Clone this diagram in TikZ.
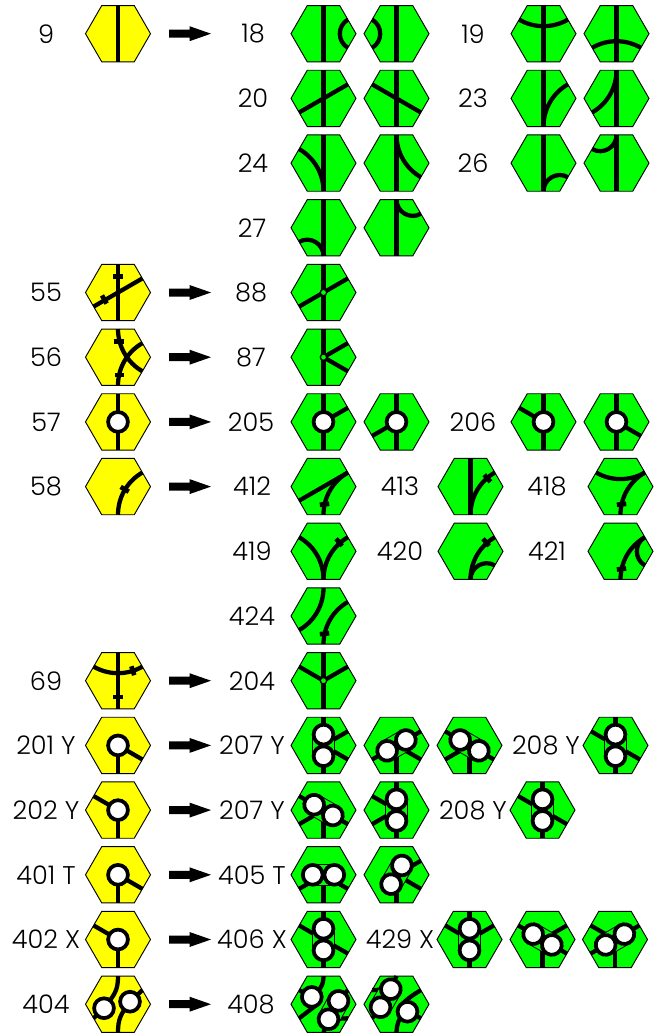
\documentclass[tikz,border=0pt]{standalone}
\usepackage{fontspec}
\setmainfont{Poppins}[UprightFont=* Light]
\definecolor{tg}{HTML}{00FF00}
\definecolor{ty}{HTML}{FFFF00}
\def\ap{28.15}
\tikzset{
  track/.style={draw=black,line width=3.2pt},
  tickbar/.style={draw=black,line width=3.5pt},
  ringc/.style={draw=black,fill=white,line width=2.8pt},
  thinside/.style={draw=black,fill=tg,line width=0.6pt},
  dotmark/.style={draw=black,fill=tg,line width=1pt},
  hexb/.style={draw=black,line width=0.7pt},
  lab/.style={font=\fontsize{19.2}{21}\selectfont,inner sep=0pt,anchor=center},
}
% gentle or straight track between two edges
\newcommand\trk[2]{\pgfmathsetmacro\oa{#1+180}\pgfmathsetmacro\ob{#2+180}%
  \draw[track] (#1:\ap) to[out=\oa,in=\ob,looseness=0.92] (#2:\ap);}
% sharp track between two adjacent edges
\newcommand\srk[2]{\pgfmathsetmacro\oa{#1+180}\pgfmathsetmacro\ob{#2+180}%
  \draw[track] (#1:\ap) to[out=\oa,in=\ob,looseness=1.13] (#2:\ap);}
\newcommand\legs[1]{\foreach\a in {#1}{\draw[track] (0,0)--(\a:\ap);}}
\newcommand\tick[3]{\begin{scope}[shift={(#1,#2)},rotate=#3]\draw[tickbar] (-4.7,0)--(4.7,0);\end{scope}}
\newcommand\town{\draw[dotmark] (0,0) circle (3.2);}
\newcommand\city[2]{\draw[ringc] (#1,#2) circle (9.9);}
\newcommand\stad[4]{\begin{scope}[shift={(#1,#2)},rotate=#3]
  \draw[thinside] (-#4,-10.8) rectangle (#4,10.8);
  \draw[ringc] (-#4,0) circle (9.9);\draw[ringc] (#4,0) circle (9.9);\end{scope}}
\newcommand\twocity[2]{\legs{#2}\stad{0}{0}{#1}{10.8}}
\newcommand\tile[4]{\pgfmathsetmacro\ty{-(33.7+64.7*#3)}%
  \begin{scope}[shift={(#2,\ty)}]
  \fill[#1] (0:32.5)--(60:32.5)--(120:32.5)--(180:32.5)--(240:32.5)--(300:32.5)--cycle;
  #4
  \draw[hexb] (0:32.5)--(60:32.5)--(120:32.5)--(180:32.5)--(240:32.5)--(300:32.5)--cycle;
  \end{scope}}
\newcommand\arw[1]{\pgfmathsetmacro\ty{-(33.7+64.7*#1)}%
  \begin{scope}[shift={(0,\ty)}]
  \fill[black] (169,4)--(189.5,4)--(189.5,7.5)--(211,0)--(189.5,-7.5)--(189.5,-4)--(169,-4)--cycle;
  \end{scope}}
\newcommand\lab[3]{\pgfmathsetmacro\ty{-(33.7+64.7*#2)}%
  \node[lab] (lab-#1-#2) at (#1,\ty) {#3};}
\begin{document}
\begin{tikzpicture}[x=0.75pt,y=0.75pt]
\useasboundingbox (0,0) rectangle (660,-1034);
% labels
\lab{46}{0}{9}\lab{253}{0}{18}\lab{473}{0}{19}
\lab{253}{1}{20}\lab{473}{1}{23}
\lab{253}{2}{24}\lab{473}{2}{26}
\lab{252}{3}{27}
\lab{46}{4}{55}\lab{251}{4}{88}
\lab{46}{5}{56}\lab{251}{5}{87}
\lab{46}{6}{57}\lab{251}{6}{205}\lab{473}{6}{206}
\lab{46}{7}{58}\lab{252}{7}{412}\lab{400}{7}{413}\lab{547}{7}{418}
\lab{252}{8}{419}\lab{400}{8}{420}\lab{547}{8}{421}
\lab{252}{9}{424}
\lab{46}{10}{69}\lab{252}{10}{204}
\lab{46}{11}{201 Y}\lab{252}{11}{207 Y}\lab{546}{11}{208 Y}
\lab{46}{12}{202 Y}\lab{252}{12}{207 Y}\lab{473}{12}{208 Y}
\lab{46}{13}{401 T}\lab{252}{13}{405 T}
\lab{46}{14}{402 X}\lab{252}{14}{406 X}\lab{400}{14}{429 X}
\lab{46}{15}{404}\lab{251}{15}{408}
% arrows
\foreach\r in {0,4,5,6,7,10,11,12,13,14,15}{\arw{\r}}
% row 0
\tile{ty}{118}{0}{\trk{90}{-90}}
\tile{tg}{323.5}{0}{\trk{90}{-90}\srk{30}{-30}}
\tile{tg}{396.5}{0}{\trk{90}{-90}\srk{150}{-150}}
\tile{tg}{543.5}{0}{\trk{90}{-90}\trk{150}{30}}
\tile{tg}{616.5}{0}{\trk{90}{-90}\trk{-150}{-30}}
% row 1
\tile{tg}{323.5}{1}{\trk{90}{-90}\trk{30}{-150}}
\tile{tg}{396.5}{1}{\trk{90}{-90}\trk{150}{-30}}
\tile{tg}{543.5}{1}{\trk{90}{-90}\trk{-90}{30}}
\tile{tg}{616.5}{1}{\trk{90}{-90}\trk{90}{-150}}
% row 2
\tile{tg}{323.5}{2}{\trk{90}{-90}\trk{-90}{150}}
\tile{tg}{396.5}{2}{\trk{90}{-90}\trk{90}{-30}}
\tile{tg}{543.5}{2}{\trk{90}{-90}\srk{-90}{-30}}
\tile{tg}{616.5}{2}{\trk{90}{-90}\srk{90}{150}}
% row 3
\tile{tg}{323.5}{3}{\trk{90}{-90}\srk{-90}{-150}}
\tile{tg}{396.5}{3}{\trk{90}{-90}\srk{90}{30}}
% row 4
\tile{ty}{118}{4}{\trk{90}{-90}\trk{30}{-150}\tick{0}{16.3}{0}\tick{-13.7}{-7}{120}}
\tile{tg}{323.5}{4}{\trk{90}{-90}\trk{30}{-150}\town}
% row 5
\tile{ty}{118}{5}{\trk{90}{-30}\trk{-90}{30}\tick{1}{16}{0}\tick{1.3}{-17.7}{0}}
\tile{tg}{323.5}{5}{\legs{90,-90,30,-30}\town}
% row 6
\tile{ty}{118}{6}{\legs{90,-90}\city{0}{0}}
\tile{tg}{323.5}{6}{\legs{90,-90,30}\city{0}{0}}
\tile{tg}{396.5}{6}{\legs{90,-90,-150}\city{0}{0}}
\tile{tg}{543.5}{6}{\legs{90,-90,150}\city{0}{0}}
\tile{tg}{616.5}{6}{\legs{90,-90,-30}\city{0}{0}}
% row 7
\tile{ty}{118}{7}{\trk{-90}{30}\tick{6.7}{-2.7}{-31}}
\tile{tg}{323.5}{7}{\trk{30}{-150}\trk{-90}{30}\tick{1}{-17.7}{6}}
\tile{tg}{470.5}{7}{\trk{90}{-90}\trk{-90}{30}\tick{16.9}{8.3}{-49}}
\tile{tg}{620.5}{7}{\trk{150}{30}\trk{-90}{30}\tick{1}{-17.7}{6}}
% row 8
\tile{tg}{323.5}{8}{\trk{-90}{150}\trk{-90}{30}\tick{15.6}{9}{-49}}
\tile{tg}{470.5}{8}{\trk{-90}{30}\srk{-90}{-30}\tick{15.6}{9}{-49}}
\tile{tg}{620.5}{8}{\trk{-90}{30}\srk{30}{-30}\tick{1}{-17.7}{6}}
% row 9
\tile{tg}{323.5}{9}{\trk{90}{-150}\trk{-90}{30}\tick{1}{-17.7}{6}}
% row 10
\tile{ty}{118}{10}{\trk{90}{-90}\trk{150}{30}\tick{14.8}{10}{-72}\tick{0}{-16.3}{0}}
\tile{tg}{323.5}{10}{\legs{90,-90,150,30}\town}
% row 11
\tile{ty}{118}{11}{\legs{-90,-30}\city{0}{0}}
\tile{tg}{323.5}{11}{\twocity{90}{90,-90,30,-30}}
\tile{tg}{396.5}{11}{\twocity{30}{30,-150,-30,-90}}
\tile{tg}{469.5}{11}{\twocity{150}{150,-30,-150,-90}}
\tile{tg}{615.5}{11}{\twocity{90}{90,-90,150,-30}}
% row 12
\tile{ty}{118}{12}{\legs{-90,150}\city{0}{0}}
\tile{tg}{323.5}{12}{\twocity{150}{150,-30,-150,-90}}
\tile{tg}{396.5}{12}{\twocity{90}{90,-90,150,-150}}
\tile{tg}{542.5}{12}{\twocity{90}{90,-90,150,-30}}
% row 13
\tile{ty}{118}{13}{\legs{-90,-30}\city{0}{0}}
\tile{tg}{323.5}{13}{\twocity{0}{-150,-30,-90}}
\tile{tg}{396.5}{13}{\twocity{60}{30,-30,-90}}
% row 14
\tile{ty}{118}{14}{\legs{-90,150}\city{0}{0}}
\tile{tg}{323.5}{14}{\twocity{90}{90,-90,150,-30}}
\tile{tg}{469.5}{14}{\twocity{90}{90,-90,150,30}}
\tile{tg}{542.5}{14}{\twocity{150}{150,30,-90,-30}}
\tile{tg}{615}{14}{\twocity{30}{150,30,-150,-90}}
% row 15
\tile{ty}{118}{15}{
  \draw[track] (0,\ap) .. controls (0,14) and (-3,10) .. (-14,-4);
  \draw[track] (0,-\ap) .. controls (0,-14) and (3,-10) .. (12,2.5);
  \draw[track] (-150:\ap)--(-14,-4);
  \draw[track] (30:\ap)--(12,2.5);
  \city{-14}{-4}\city{12}{2.5}}
\tile{tg}{323.5}{15}{
  \draw[track] (0,\ap) .. controls (0,18) and (-4,14) .. (-11.7,7.3);
  \draw[track] (150:\ap)--(-11.7,7.3);
  \draw[track] (-150:\ap)--(-6,0);
  \draw[track] (30:\ap)--(15,3.3);
  \draw[track] (-30:\ap)--(5,-15);
  \draw[track] (0,-\ap)--(5,-15);
  \city{-11.7}{7.3}\stad{10}{-5.85}{61.3}{10.45}}
\tile{tg}{396.5}{15}{
  \draw[track] (0,\ap)--(-5.7,15);
  \draw[track] (150:\ap)--(-5.7,15);
  \draw[track] (-150:\ap)--(-16,-3);
  \draw[track] (0,-\ap) .. controls (0.5,-20) and (1,-14) .. (11,-7.5);
  \draw[track] (30:\ap) .. controls (14,8) and (8,3) .. (4,-2);
  \draw[track] (-30:\ap)--(11,-7.5);
  \stad{-10.85}{6}{60.2}{10.4}\city{11}{-7.5}}
\end{tikzpicture}
\end{document}
